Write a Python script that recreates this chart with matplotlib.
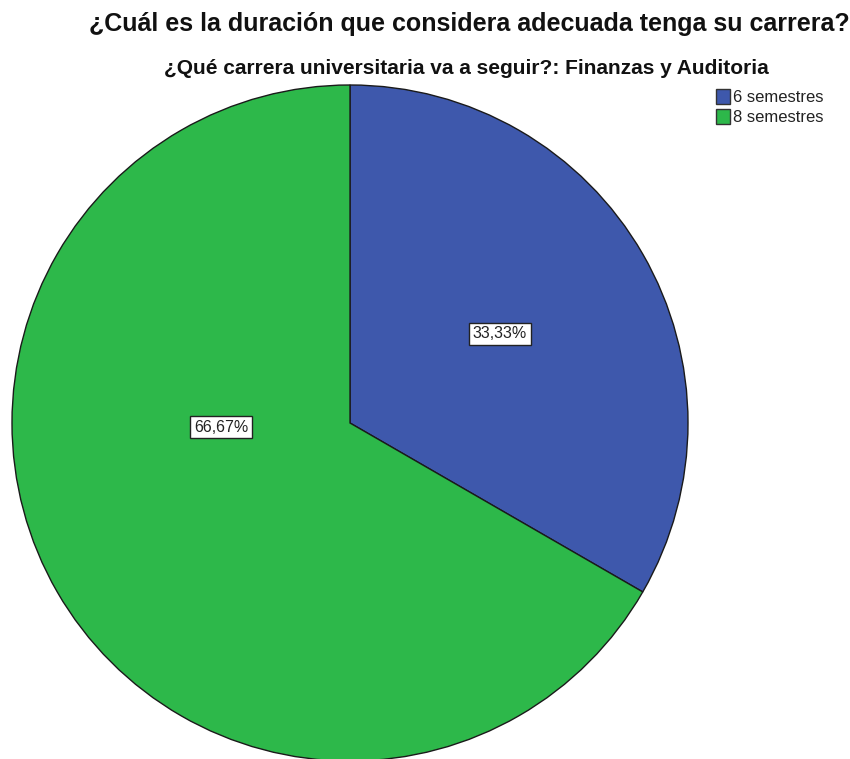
import matplotlib
matplotlib.use("Agg")
import matplotlib.pyplot as plt
from matplotlib.patches import Rectangle

categories = ["6 semestres", "8 semestres"]
percentages = [33.33, 66.67]
colors = ["#3E58AC", "#2DB84A"]
title = "¿Cuál es la duración que considera adecuada tenga su carrera?"
subtitle = "¿Qué carrera universitaria va a seguir?: Finanzas y Auditoria"

W, H = 850, 759
fig = plt.figure(figsize=(W / 100, H / 100), dpi=100)
ax = fig.add_axes([0, 0, 1, 1])

cx, cy, r = 350, H - 423, 338
wedges, texts, autotexts = ax.pie(
    percentages, colors=colors, startangle=90, counterclock=False,
    center=(cx, cy), radius=r, frame=True,
    wedgeprops=dict(edgecolor="#1a1a1a", linewidth=1.0),
    autopct=lambda p: f"{p:.2f}%".replace(".", ","), pctdistance=0.515,
    textprops=dict(fontsize=11.5, family="Liberation Sans", color="#222222"),
)
ax.set_xlim(0, W)
ax.set_ylim(0, H)
ax.set_aspect("equal")
ax.axis("off")
# SPSS places the larger slice label near the horizontal
autotexts[0].set_position((500, H - 334))
autotexts[1].set_position((221, H - 427))
for t in autotexts:
    t.set_bbox(dict(boxstyle="square,pad=0.22", facecolor="white", edgecolor="#222222", linewidth=1))

fig.text(469 / W, 1 - 24 / H, title, ha="center", va="center", fontsize=18,
         fontweight="bold", family="Liberation Sans", color="#111111")
fig.text(466.5 / W, 1 - 68 / H, subtitle, ha="center", va="center", fontsize=15,
         fontweight="bold", family="Liberation Sans", color="#111111")

# legend
for i, (lab, c) in enumerate(zip(categories, colors)):
    y = H - (97 + 20 * i)
    ax.add_patch(Rectangle((716, y - 7), 14, 15, facecolor=c, edgecolor="#333333", linewidth=1, clip_on=False))
    ax.text(733, y, lab, ha="left", va="center", fontsize=12, family="Liberation Sans", color="#222222")

fig.savefig("out.png", dpi=100, facecolor="white")
